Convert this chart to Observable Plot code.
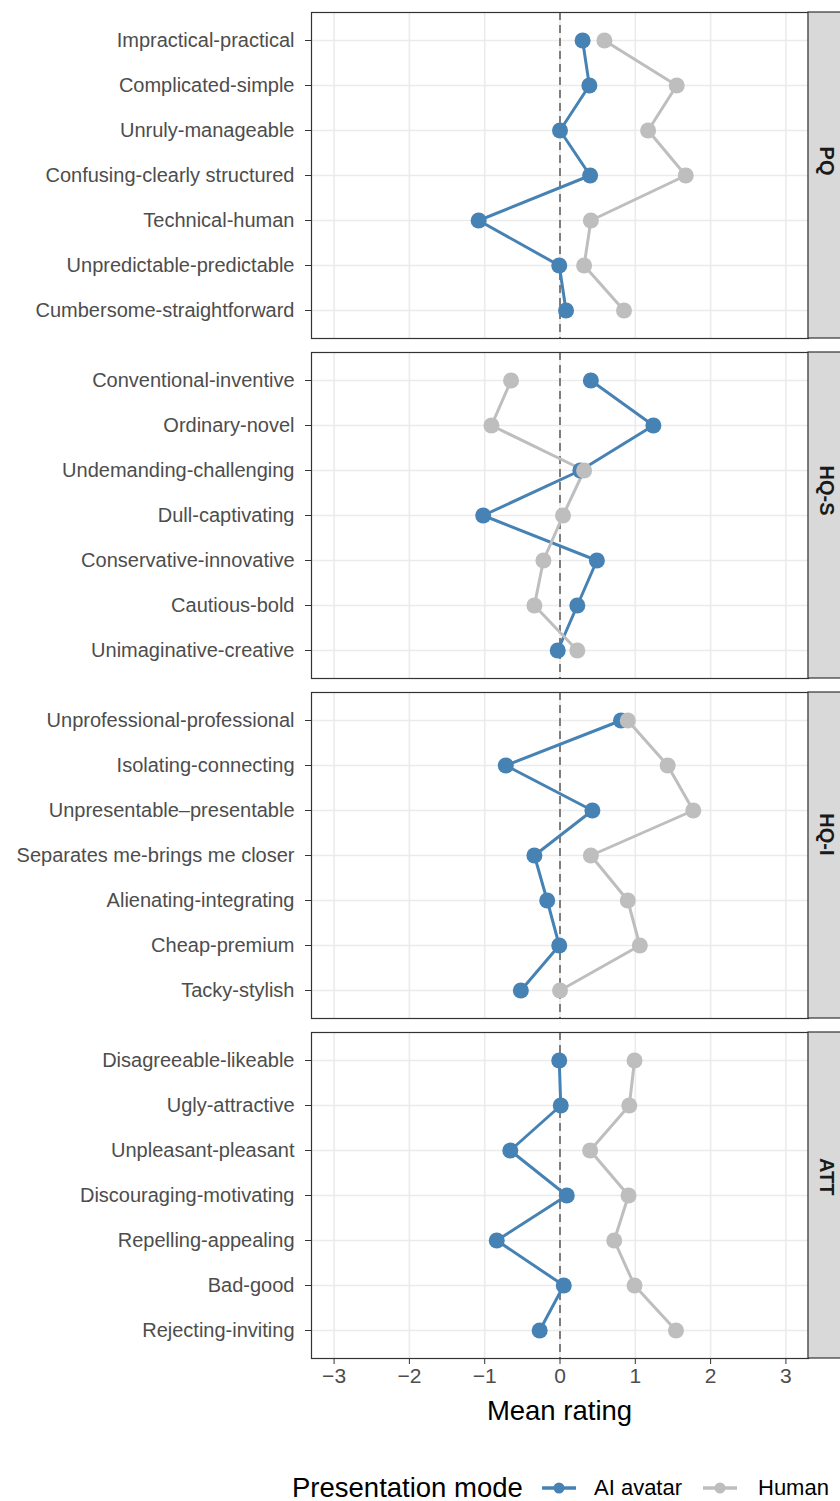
<!DOCTYPE html>
<html><head><meta charset="utf-8">
<script src="https://cdn.jsdelivr.net/npm/d3@7"></script>
<script src="https://cdn.jsdelivr.net/npm/@observablehq/plot@0.6"></script>
<style>
html,body{margin:0;padding:0;background:#fff;}
body{width:840px;height:1501px;position:relative;overflow:hidden;font-family:"Liberation Sans",Arial,sans-serif;}
#chart svg{display:block;}
.lg{position:absolute;white-space:nowrap;line-height:30px;height:30px;}
</style></head><body>
<div id="chart"></div>
<div id="legend"></div>
<script>
const groups = ["PQ", "HQ-S", "HQ-I", "ATT"];
const modes = ["AI avatar", "Human"];
const modeColors = ["#4682B4", "#BEBEBE"];
const xTicks = [-3, -2, -1, 0, 1, 2, 3];
const xDomain = [-3.3, 3.3];

const itemsPQ = ["Impractical-practical", "Complicated-simple", "Unruly-manageable", "Confusing-clearly structured", "Technical-human", "Unpredictable-predictable", "Cumbersome-straightforward"];
const aiPQ = [0.30, 0.39, 0.00, 0.40, -1.08, -0.01, 0.08];
const humanPQ = [0.59, 1.55, 1.17, 1.67, 0.41, 0.32, 0.85];

const itemsHQS = ["Conventional-inventive", "Ordinary-novel", "Undemanding-challenging", "Dull-captivating", "Conservative-innovative", "Cautious-bold", "Unimaginative-creative"];
const aiHQS = [0.41, 1.24, 0.27, -1.02, 0.49, 0.23, -0.03];
const humanHQS = [-0.65, -0.91, 0.32, 0.04, -0.22, -0.34, 0.23];

const itemsHQI = ["Unprofessional-professional", "Isolating-connecting", "Unpresentable\u2013presentable", "Separates me-brings me closer", "Alienating-integrating", "Cheap-premium", "Tacky-stylish"];
const aiHQI = [0.81, -0.72, 0.43, -0.34, -0.17, -0.01, -0.52];
const humanHQI = [0.90, 1.43, 1.77, 0.41, 0.90, 1.06, 0.00];

const itemsATT = ["Disagreeable-likeable", "Ugly-attractive", "Unpleasant-pleasant", "Discouraging-motivating", "Repelling-appealing", "Bad-good", "Rejecting-inviting"];
const aiATT = [-0.01, 0.01, -0.66, 0.09, -0.84, 0.05, -0.27];
const humanATT = [0.99, 0.92, 0.40, 0.91, 0.72, 0.99, 1.54];

const itemSets = [itemsPQ, itemsHQS, itemsHQI, itemsATT];
const aiSets = [aiPQ, aiHQS, aiHQI, aiATT];
const humanSets = [humanPQ, humanHQS, humanHQI, humanATT];
const idx = itemsPQ.map((_, i) => i);

const labelRows = [];
const aiRows = [];
const humanRows = [];
groups.forEach((g, gi) => {
  itemSets[gi].forEach((item, i) => {
    labelRows.push({group: g, idx: i, item});
    aiRows.push({group: g, idx: i, item, mode: modes[0], value: aiSets[gi][i]});
    humanRows.push({group: g, idx: i, item, mode: modes[1], value: humanSets[gi][i]});
  });
});
const rows = aiRows.concat(humanRows);

const font = '"Liberation Sans", Arial, sans-serif';

const chart = Plot.plot({
  width: 840,
  height: 1440,
  marginTop: 10,
  marginBottom: 80,
  marginLeft: 311,
  marginRight: 32,
  style: {fontFamily: font, fontSize: "20px", background: "#fff", overflow: "visible"},
  x: {domain: xDomain, axis: null},
  y: {type: "point", domain: idx, padding: 0.6, axis: null},
  fy: {domain: groups, paddingInner: 0.041, paddingOuter: 0, axis: null},
  color: {domain: modes, range: modeColors},
  marks: [
    Plot.ruleX(xTicks, {stroke: "#EBEBEB", strokeWidth: 1.6}),
    Plot.ruleY(idx, {y: d => d, stroke: "#EBEBEB", strokeWidth: 1.6}),
    Plot.ruleX([0], {stroke: "#595959", strokeWidth: 1.5, strokeDasharray: "8,5"}),
    Plot.line(rows, {x: "value", y: "idx", fy: "group", z: "mode", stroke: "mode", strokeWidth: 3}),
    Plot.dot(rows, {x: "value", y: "idx", fy: "group", fill: "mode", r: 8}),
    Plot.frame({stroke: "#333333", strokeWidth: 1.2}),
    Plot.rect(groups, {fy: d => d, x1: xDomain[1], x2: xDomain[1], insetRight: -40, fill: "#D9D9D9", stroke: "#333333", strokeWidth: 1.2}),
    Plot.text(groups, {fy: d => d, text: d => d, frameAnchor: "right", dx: 18, rotate: 90, fontWeight: "bold", fontSize: 20, fill: "#1A1A1A"}),
    Plot.text(labelRows, {fy: "group", y: "idx", text: "item", frameAnchor: "left", textAnchor: "end", dx: -17, fill: "#4D4D4D", fontSize: 20}),
    Plot.axisY({ticks: idx, tickSize: 6, tickFormat: () => "", stroke: "#333333", label: null}),
    Plot.axisX({ticks: xTicks, tickSize: 6, tickPadding: 4, tickFormat: d3.format("~f"), fontSize: 21, color: "#4D4D4D", fill: "#4D4D4D", stroke: "#333333", label: null})
  ]
});
document.getElementById("chart").appendChild(chart);

// axis title and legend (HTML)
const legend = document.getElementById("legend");
function addText(txt, left, size, color, top) {
  const d = document.createElement("div");
  d.className = "lg";
  d.textContent = txt;
  d.style.left = left + "px";
  d.style.top = top + "px";
  d.style.fontSize = size + "px";
  d.style.color = color;
  legend.appendChild(d);
  return d;
}
const title = addText("Mean rating", 0, 27.5, "#000", 1396);
title.style.width = "1119px"; // centered on panel center (559.5)
title.style.textAlign = "center";

addText("Presentation mode", 292, 27.5, "#000", 1473);
const keyLefts = [542, 703];
const labelLefts = [594, 758];
modes.forEach((m, i) => {
  const ns = "http://www.w3.org/2000/svg";
  const s = document.createElementNS(ns, "svg");
  s.setAttribute("width", 34); s.setAttribute("height", 20);
  s.style.position = "absolute";
  s.style.left = keyLefts[i] + "px";
  s.style.top = (1488 - 10) + "px";
  const ln = document.createElementNS(ns, "line");
  ln.setAttribute("x1", 0); ln.setAttribute("x2", 34); ln.setAttribute("y1", 10); ln.setAttribute("y2", 10);
  ln.setAttribute("stroke", modeColors[i]); ln.setAttribute("stroke-width", 3.5);
  const c = document.createElementNS(ns, "circle");
  c.setAttribute("cx", 17); c.setAttribute("cy", 10); c.setAttribute("r", 5.5); c.setAttribute("fill", modeColors[i]);
  s.appendChild(ln); s.appendChild(c);
  legend.appendChild(s);
  addText(m, labelLefts[i], 22, "#000", 1473);
});
</script>
</body></html>
